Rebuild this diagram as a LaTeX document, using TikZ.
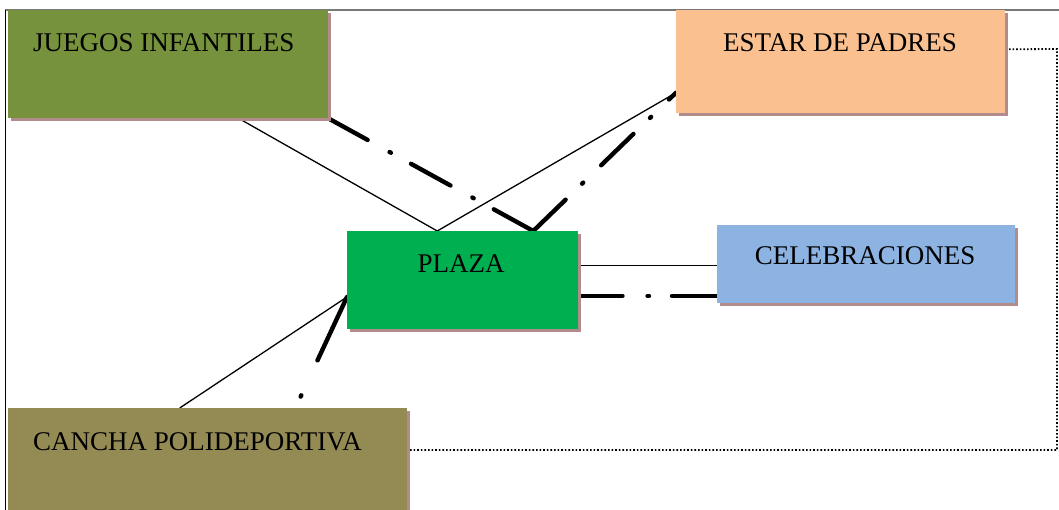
\documentclass[tikz,border=0pt]{standalone}
\usepackage{fontspec}
\setmainfont{Liberation Serif}
\usetikzlibrary{calc,shadows}
\definecolor{cJ}{RGB}{118,146,60}
\definecolor{cE}{RGB}{250,192,144}
\definecolor{cP}{RGB}{0,176,80}
\definecolor{cC}{RGB}{141,179,226}
\definecolor{cK}{RGB}{148,138,84}
\definecolor{cS}{RGB}{178,140,140}
\pgfdeclarelayer{bg}
\pgfsetlayers{bg,main}
\tikzset{
  box/.style={rectangle, draw=none, inner sep=0pt, anchor=north west,
    drop shadow={shadow xshift=3pt, shadow yshift=-3pt, fill=cS, opacity=1}},
  lbl/.style={inner sep=0pt, font=\fontsize{27}{31}\selectfont, text=black},
  thin/.style={draw=black, line width=1.3pt},
  dashdot/.style={draw=black, line width=4.4pt, line cap=round,
    dash pattern=on 45pt off 23pt on 1.5pt off 25pt},
  dotline/.style={draw=black, line width=1.8pt, dash pattern=on 1.6pt off 2pt},
}
\begin{document}
\begin{tikzpicture}[x=1pt,y=-1pt]
\useasboundingbox (0,0) rectangle (1059,510);
\clip (0,0) rectangle (1059,510);
% frame
\draw[draw={rgb,255:red,120;green,120;blue,120}, line width=1.5pt] (5,10) -- (1059,10);
\draw[black, line width=1pt] (5,10) -- (5,510);
% boxes
\node[box, fill=cJ, minimum width=320pt, minimum height=108pt] (j) at (8,10) {};
\node[box, fill=cE, minimum width=329pt, minimum height=103pt] (e) at (676,10) {};
\node[box, fill=cP, minimum width=231pt, minimum height=98pt] (p) at (347,231) {};
\node[box, fill=cC, minimum width=298pt, minimum height=78pt] (c) at (717,225) {};
\node[box, fill=cK, minimum width=399pt, minimum height=112pt] (k) at (8,408) {};
% labels
\node[lbl, anchor=base west] (jt) at (33,52) {JUEGOS INFANTILES};
\node[lbl, anchor=base] (et) at (840,52) {ESTAR DE PADRES};
\node[lbl, anchor=base] (pt) at (461,273) {PLAZA};
\node[lbl, anchor=base] (ct) at (865,265) {CELEBRACIONES};
\node[lbl, anchor=base west] (kt) at (33,450) {CANCHA POLIDEPORTIVA};
% helper coordinates
\coordinate (ptopA) at ($(p.north west)!0.39!(p.north east)$);
\coordinate (ptopB) at ($(p.north west)!0.805!(p.north east)$);
\coordinate (pR1) at ($(p.north east)!0.35!(p.south east)$);
\coordinate (pR2) at ($(p.north east)!0.66!(p.south east)$);
\coordinate (pL) at ($(p.north west)!0.67!(p.south west)$);
\coordinate (jB) at ($(j.south west)!0.72!(j.south east)$);
\coordinate (eL) at ($(e.north west)!0.80!(e.south west)$);
\coordinate (eR) at ($(e.north east)!0.38!(e.south east)$);
\coordinate (kT) at ($(k.north west)!0.43!(k.north east)$);
\coordinate (kdot) at (300,398);
\coordinate (cornerA) at (1057,49);
\coordinate (cornerB) at (1057,450);
\begin{pgfonlayer}{bg}
\draw[thin] (jB) -- (ptopA);
\draw[thin] (ptopA) -- (eL);
\draw[dashdot] (ptopB) -- (j.south east);
\draw[dashdot] (ptopB) -- (eL);
\draw[thin] (pR1) -- (c.west |- pR1);
\draw[dashdot] (c.west |- pR2) -- (pR2);
\draw[thin] (pL) -- (kT);
\draw[draw=black, line width=4.4pt, line cap=round, dash pattern=on 70pt off 38.5pt on 1.5pt off 50pt] (pL) -- (kdot);
\draw[dotline] (eR) -- (cornerA) -- (cornerB) -- (k.east |- cornerB);
\end{pgfonlayer}
\end{tikzpicture}
\end{document}
